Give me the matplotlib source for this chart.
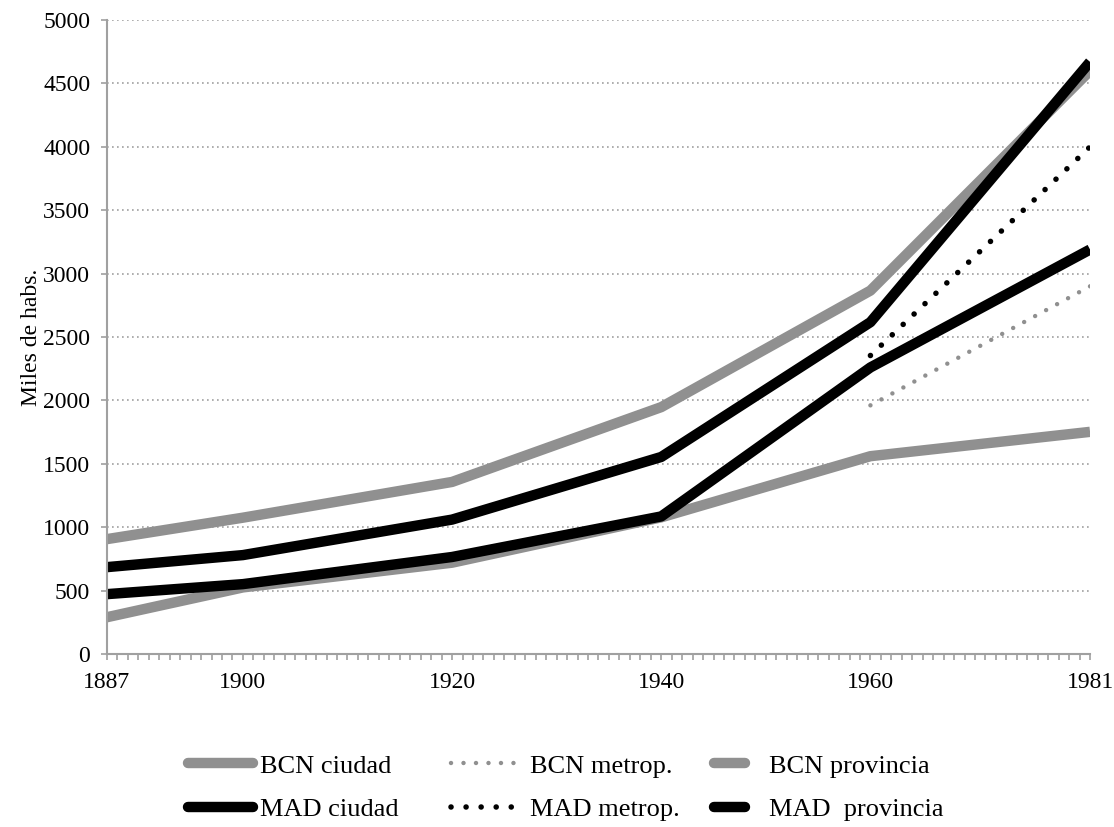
import matplotlib.pyplot as plt
from matplotlib.ticker import MultipleLocator

plt.rcParams['font.family'] = ['Liberation Serif', 'DejaVu Serif']

# census years and population (thousands)
years = [1887, 1900, 1920, 1940, 1960, 1981]
bcn_ciudad = [290, 525, 720, 1078, 1560, 1752]
bcn_provincia = [906, 1075, 1357, 1947, 2866, 4600]
mad_ciudad = [472, 551, 765, 1085, 2260, 3190]
mad_provincia = [685, 780, 1060, 1554, 2617, 4670]

metrop_years = [1960, 1981]
bcn_metrop = [1961, 2900]
mad_metrop = [2354, 4000]

xtick_years = [1887, 1900, 1920, 1940, 1960, 1981]

grey = '#909090'
axis_grey = '#a0a0a0'

fig = plt.figure(figsize=(11.14, 8.27), dpi=100)
ax = fig.add_axes([0.096, 0.2092, 0.8825, 0.7666])

lw = 7.5
l1, = ax.plot(years, bcn_ciudad, color=grey, lw=lw, solid_capstyle='butt', solid_joinstyle='round')
l2, = ax.plot(metrop_years, bcn_metrop, color=grey, lw=3.2, linestyle=(0, (0.01, 2.8)),
              dash_capstyle='round')
l3, = ax.plot(years, bcn_provincia, color=grey, lw=lw, solid_capstyle='butt', solid_joinstyle='round')
l4, = ax.plot(years, mad_ciudad, color='black', lw=lw, solid_capstyle='butt', solid_joinstyle='round')
l5, = ax.plot(metrop_years, mad_metrop, color='black', lw=4.0, linestyle=(0, (0.01, 2.7)),
              dash_capstyle='round')
l6, = ax.plot(years, mad_provincia, color='black', lw=lw, solid_capstyle='butt', solid_joinstyle='round')

ax.set_xlim(1887, 1981)
ax.set_ylim(0, 5000)
ax.set_xticks(xtick_years)
ax.xaxis.set_minor_locator(MultipleLocator(1))
ax.yaxis.set_major_locator(MultipleLocator(500))

ax.grid(axis='y', color=axis_grey, linestyle=(0, (1, 2)), lw=1.2)
ax.set_axisbelow(True)
for s in ['top', 'right']:
    ax.spines[s].set_visible(False)
for s in ['left', 'bottom']:
    ax.spines[s].set_color(axis_grey)
    ax.spines[s].set_linewidth(1.5)

ax.tick_params(axis='x', which='both', direction='out', length=4, width=1.2,
               color=axis_grey, labelsize=17, pad=9)
ax.tick_params(axis='y', direction='out', length=4, width=1.2,
               color=axis_grey, labelsize=17, pad=8)

ax.set_ylabel('Miles de habs.', fontsize=17)
ax.yaxis.set_label_coords(-0.066, 0.5)

# legend handles (round caps)
def handle(color, lw, ls='-'):
    h, = plt.plot([], [], color=color, lw=lw, linestyle=ls,
                  solid_capstyle='round', dash_capstyle='round')
    return h

common = dict(frameon=False, fontsize=19, borderpad=0, borderaxespad=0,
              labelspacing=0.75, loc='upper left')

leg1 = fig.legend([handle(grey, lw), handle('black', lw)],
                  ['BCN ciudad', 'MAD ciudad'],
                  handlelength=2.46, handletextpad=0.27,
                  bbox_to_anchor=(0.1688, 0.088), **common)
leg2 = fig.legend([handle(grey, 3.2, (0, (0.01, 2.8))), handle('black', 4.0, (0, (0.01, 2.7)))],
                  ['BCN metrop.', 'MAD metrop.'],
                  handlelength=2.4, handletextpad=0.57,
                  bbox_to_anchor=(0.405, 0.088), **common)
leg3 = fig.legend([handle(grey, lw), handle('black', lw)],
                  ['BCN provincia', 'MAD  provincia'],
                  handlelength=1.17, handletextpad=0.9,
                  bbox_to_anchor=(0.641, 0.088), **common)

fig.savefig('out.png', dpi=100)
